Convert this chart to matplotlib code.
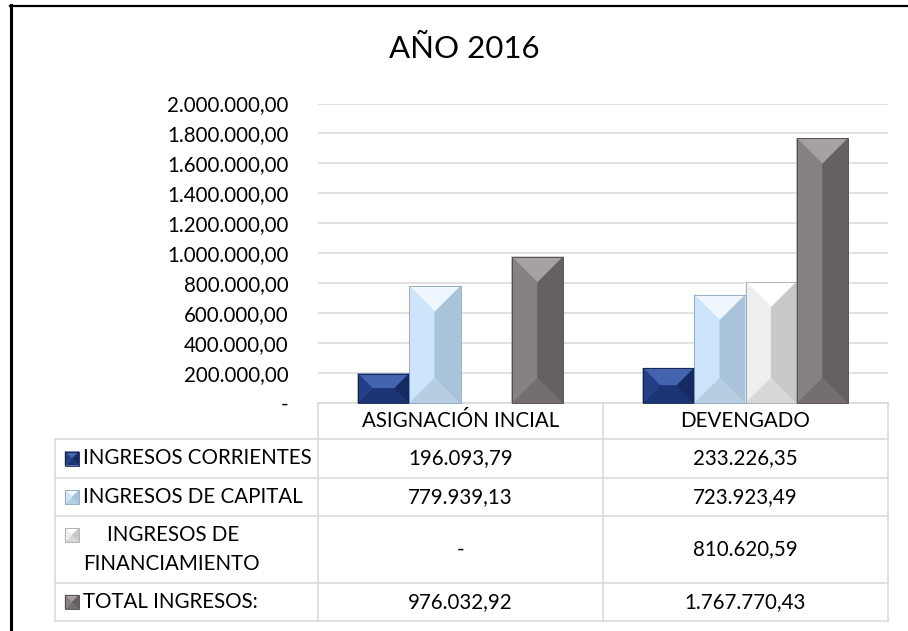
import matplotlib
matplotlib.use("Agg")
import matplotlib.pyplot as plt
import matplotlib.transforms as mtransforms
from matplotlib.patches import Polygon, Rectangle
from matplotlib.lines import Line2D
from matplotlib.ticker import FuncFormatter, MultipleLocator

# datos del grafico
titulo = "AÑO 2016"
categorias = ["ASIGNACIÓN INCIAL", "DEVENGADO"]
series = ["INGRESOS CORRIENTES", "INGRESOS DE CAPITAL",
          "INGRESOS DE FINANCIAMIENTO", "TOTAL INGRESOS:"]
corrientes = [196093.79, 233226.35]
capital = [779939.13, 723923.49]
financiamiento = [0.0, 810620.59]
total = [976032.92, 1767770.43]
valores = [corrientes, capital, financiamiento, total]

# colores: base, arriba, izquierda, derecha, abajo, borde
colores = [
    ("#1F3C84", "#4465AE", "#233F88", "#152A62", "#1B3474", "#0E1D48"),
    ("#BBD5EC", "#EEF7FF", "#CCE5FA", "#A8C3DA", "#B6CEE2", "#8BA3B8"),
    ("#DEDEDE", "#FFFFFF", "#EEEEEE", "#C8C8C8", "#D8D8D8", "#A8A8A8"),
    ("#7B7575", "#A7A1A1", "#878181", "#666060", "#746E6E", "#4A4545"),
]

plt.rcParams['font.family'] = ['Lato', 'DejaVu Sans']

W, H = 908, 631
fig = plt.figure(figsize=(W / 100, H / 100), dpi=100)
# coordenadas en pixeles (y hacia abajo)
pix = mtransforms.Affine2D().scale(1 / W, -1 / H).translate(0, 1) + fig.transFigure

GRIS = "#D9D9D9"
FS = 14.8


def fmt(v):
    if v == 0:
        return "-"
    s = f"{v:,.2f}"
    return s.replace(",", "X").replace(".", ",").replace("X", ".")


def bisel(x0, ytop, x1, ybot, col):
    w = x1 - x0
    h = ybot - ytop
    if w <= 0 or h <= 0:
        return
    d = min(w / 2, h / 2)
    caras = [
        ([(x0, ytop), (x1, ytop), (x1 - d, ytop + d), (x0 + d, ytop + d)], col[1]),
        ([(x0, ybot), (x1, ybot), (x1 - d, ybot - d), (x0 + d, ybot - d)], col[4]),
        ([(x0, ytop), (x0 + d, ytop + d), (x0 + d, ybot - d), (x0, ybot)], col[2]),
        ([(x1, ytop), (x1 - d, ytop + d), (x1 - d, ybot - d), (x1, ybot)], col[3]),
    ]
    if w - 2 * d > 0 and h - 2 * d > 0:
        caras.append(([(x0 + d, ytop + d), (x1 - d, ytop + d),
                       (x1 - d, ybot - d), (x0 + d, ybot - d)], col[0]))
    for pts, c in caras:
        fig.add_artist(Polygon(pts, closed=True, transform=pix, facecolor=c,
                               edgecolor=c, lw=0.3, zorder=3))
    fig.add_artist(Rectangle((x0, ytop), w, h, transform=pix, facecolor="none",
                             edgecolor=col[5], lw=0.6, zorder=4))


# area del grafico
ax = fig.add_axes([318 / W, 1 - 403 / H, 570 / W, 299.5 / H])
ax.set_xlim(-0.5, len(categorias) - 0.5)
ax.set_ylim(0, 2000000)
ax.yaxis.set_major_locator(MultipleLocator(200000))
ax.yaxis.set_major_formatter(FuncFormatter(lambda v, p: fmt(v)))
ax.tick_params(axis='y', length=0, pad=21, labelsize=FS, labelcolor="#000000")
ax.set_xticks([])
for s in ax.spines.values():
    s.set_visible(False)
ax.grid(axis='y', color=GRIS, lw=1.1)
ax.set_axisbelow(True)

ancho = 0.18
x = list(range(len(categorias)))
for i, serie in enumerate(valores):
    off = (i - 1.5) * ancho
    barras = ax.bar([xi + off for xi in x], serie, width=ancho,
                    color=colores[i][0], zorder=2)
    for b in barras:
        p = ax.transData.transform([(b.get_x(), b.get_y()),
                                    (b.get_x() + b.get_width(), b.get_y() + b.get_height())])
        q = pix.inverted().transform(p)
        bisel(q[0][0], q[1][1], q[1][0], q[0][1], colores[i])

# titulo
fig.text(464, 49, titulo, transform=pix, ha='center', va='center', fontsize=22.5)

# tabla de datos
col_x = [pix.inverted().transform(ax.transData.transform((c, 0)))[0]
         for c in [-0.5 + k for k in range(len(categorias) + 1)]]
filas = [403, 439, 478, 516, 583, 621]
izq = 55


def linea(xs, ys):
    fig.add_artist(Line2D(xs, ys, transform=pix, color=GRIS, lw=1.1, zorder=1))


linea([col_x[0], col_x[-1]], [filas[0], filas[0]])
for y in filas[1:]:
    linea([izq, col_x[-1]], [y, y])
for cx in col_x:
    linea([cx, cx], [filas[0], filas[-1]])
linea([izq, izq], [filas[1], filas[-1]])

for j, cat in enumerate(categorias):
    cx = (col_x[j] + col_x[j + 1]) / 2
    fig.text(cx, (filas[0] + filas[1]) / 2, cat, transform=pix,
             ha='center', va='center', fontsize=FS)

for i, nombre in enumerate(series):
    yc = (filas[i + 1] + filas[i + 2]) / 2
    for j in range(len(categorias)):
        cx = (col_x[j] + col_x[j + 1]) / 2
        fig.text(cx, yc, fmt(valores[i][j]), transform=pix,
                 ha='center', va='center', fontsize=FS)
    if len(nombre) > 22:
        l1, l2 = nombre.rsplit(" ", 1)
        ym = filas[i + 1] + 19
        fig.text(107, ym, l1, transform=pix, ha='left', va='center', fontsize=FS)
        fig.text(83, ym + 29, l2, transform=pix, ha='left', va='center', fontsize=FS)
    else:
        ym = yc
        fig.text(83, ym, nombre, transform=pix, ha='left', va='center', fontsize=FS)
    bisel(65, ym - 7, 79, ym + 7, colores[i])

# borde exterior
fig.add_artist(Line2D([10, W], [5.5, 5.5], transform=pix, color="black", lw=1.6))
fig.add_artist(Line2D([10.5, 10.5], [5, H], transform=pix, color="black", lw=2.2))

fig.savefig("out.png", dpi=100)
